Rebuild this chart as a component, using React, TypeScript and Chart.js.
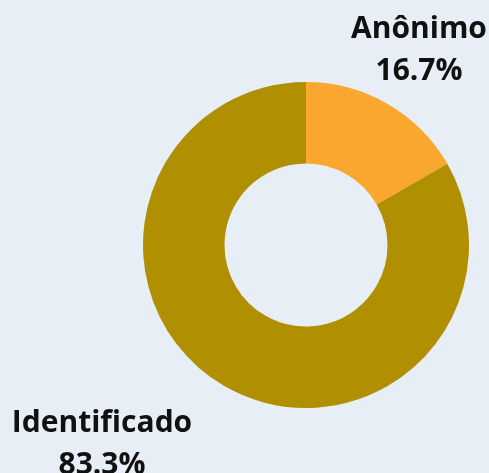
import React, { useEffect, useRef } from "react";
import { Chart, registerables } from "chart.js";

Chart.register(...registerables);

const categories = ["Anônimo", "Identificado"];
const values = [16.7, 83.3];
const colors = ["#F9A72E", "#B09000"];

// label placement relative to doughnut centre (baseline of first line)
const labelOffsets = [
  { dx: 113, dy: -207 },
  { dx: -204, dy: 187 },
];

const labelPlugin = {
  id: "outsideLabels",
  afterDraw(chart: any) {
    const ctx = chart.ctx;
    const meta = chart.getDatasetMeta(0);
    const data = chart.data.datasets[0].data as number[];
    const total = data.reduce((a, b) => a + b, 0);
    ctx.save();
    ctx.fillStyle = "#111111";
    ctx.font = "bold 30px 'Open Sans'";
    ctx.textAlign = "center";
    ctx.textBaseline = "alphabetic";
    meta.data.forEach((arc: any, i: number) => {
      const off = labelOffsets[i];
      const x = arc.x + off.dx;
      const y = arc.y + off.dy;
      ctx.fillText(String(chart.data.labels[i]), x, y);
      ctx.fillText(((data[i] / total) * 100).toFixed(1) + "%", x, y + 42);
    });
    ctx.restore();
  },
};

export default function App() {
  const ref = useRef<HTMLCanvasElement>(null);
  useEffect(() => {
    document.body.style.margin = "0";
    const chart = new Chart(ref.current!, {
      type: "doughnut",
      data: {
        labels: categories,
        datasets: [
          {
            data: values,
            backgroundColor: colors,
            borderWidth: 0,
          },
        ],
      },
      options: {
        responsive: false,
        animation: false,
        cutout: "50%",
        layout: { padding: { top: 82, bottom: 65, left: 143, right: 20 } },
        plugins: {
          legend: { display: false },
          tooltip: { enabled: false },
        },
      },
      plugins: [labelPlugin],
    });
    return () => chart.destroy();
  }, []);
  return (
    <div style={{ width: 489, height: 473, background: "#E8EEF5" }}>
      <canvas ref={ref} width={489} height={473} style={{ display: "block" }} />
    </div>
  );
}
